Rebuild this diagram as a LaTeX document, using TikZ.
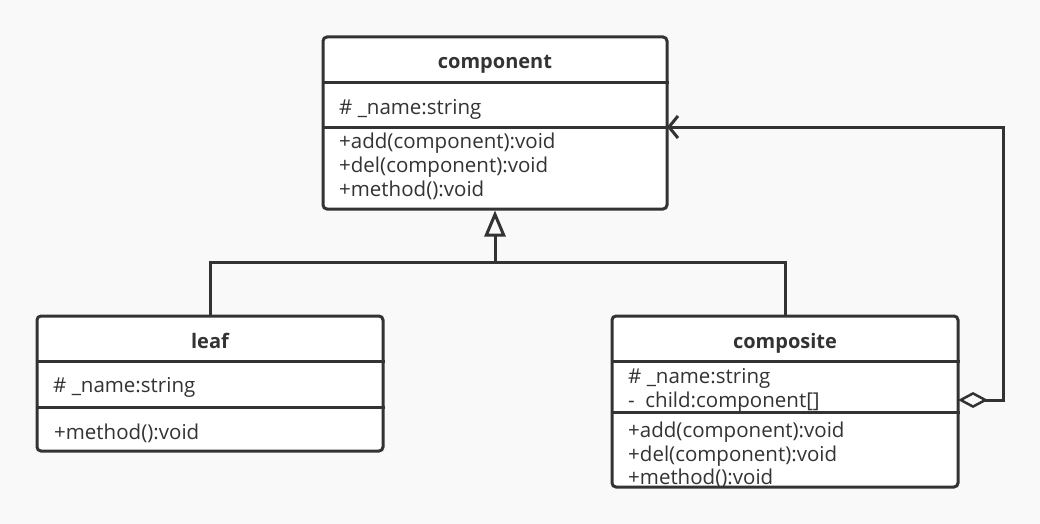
\documentclass[tikz,border=0pt]{standalone}
\usepackage{fontspec}
\setmainfont{Open Sans}
\usetikzlibrary{arrows.meta}
\definecolor{ink}{HTML}{333333}
\definecolor{bg}{HTML}{F9F9F9}
\tikzset{
  umlbox/.style={draw=ink, line width=3pt, fill=white, rounded corners=4pt, inner sep=0pt},
  title/.style={font=\fontsize{20}{20}\selectfont\bfseries, text=ink, inner sep=0pt, anchor=base},
  member/.style={font=\fontsize{20.5}{20.5}\selectfont, text=ink, inner sep=0pt, anchor=base west},
  sep/.style={draw=ink, line width=3pt},
  conn/.style={draw=ink, line width=3pt},
}
\begin{document}
\begin{tikzpicture}[x=1pt,y=-1pt]
\fill[bg] (0,0) rectangle (1040,524);
\useasboundingbox (0,0) rectangle (1040,524);
% component
\node[umlbox, minimum width=344pt, minimum height=172pt] (component) at (495,123) {};
\node[title] (componentT) at (495,69) {component};
\draw[sep] (component.west |- 0,83) -- (component.east |- 0,83);
\coordinate (cSep) at (667,127);
\draw[sep] (component.west |- cSep) -- (cSep);
\node[member] (cA1) at (339,114) {\#\ \_name:string};
\node[member] (cM1) at (339,148) {+add(component):void};
\node[member] (cM2) at (339,172) {+del(component):void};
\node[member] (cM3) at (339,196) {+method():void};
% leaf
\node[umlbox, minimum width=346pt, minimum height=135pt] (leaf) at (210,383.5) {};
\node[title] (leafT) at (210,348) {leaf};
\draw[sep] (leaf.west |- 0,361) -- (leaf.east |- 0,361);
\draw[sep] (leaf.west |- 0,407) -- (leaf.east |- 0,407);
\node[member] (lA1) at (53,392) {\#\ \_name:string};
\node[member] (lM1) at (54,439) {+method():void};
% composite
\node[umlbox, minimum width=346pt, minimum height=171pt] (composite) at (785,401.5) {};
\node[title] (compositeT) at (785,348) {composite};
\draw[sep] (composite.west |- 0,361) -- (composite.east |- 0,361);
\draw[sep] (composite.west |- 0,412) -- (composite.east |- 0,412);
\node[member] (pA1) at (628,383) {\#\ \_name:string};
\node[member] (pA2) at (628,407) {-\ \ child:component[]};
\node[member] (pM1) at (628,437) {+add(component):void};
\node[member] (pM2) at (628,461) {+del(component):void};
\node[member] (pM3) at (628,484) {+method():void};
% generalization
\coordinate (j) at (495,262);
\draw[conn] (leaf.north) |- (j) -| (composite.north);
\draw[conn, -{Triangle[open, length=26pt, width=21pt, line width=3pt]}] (j) -- (component.south);
% aggregation
\coordinate (aggStart) at (958,400);
\coordinate (aggCorner) at (1003,127);
\draw[conn, {Diamond[open, length=30pt, width=16pt, line width=2.5pt]}-{Straight Barb[length=9pt, width=22pt, line width=3pt]}]
  (aggStart) -| (aggCorner) -- (cSep);
\end{tikzpicture}
\end{document}
